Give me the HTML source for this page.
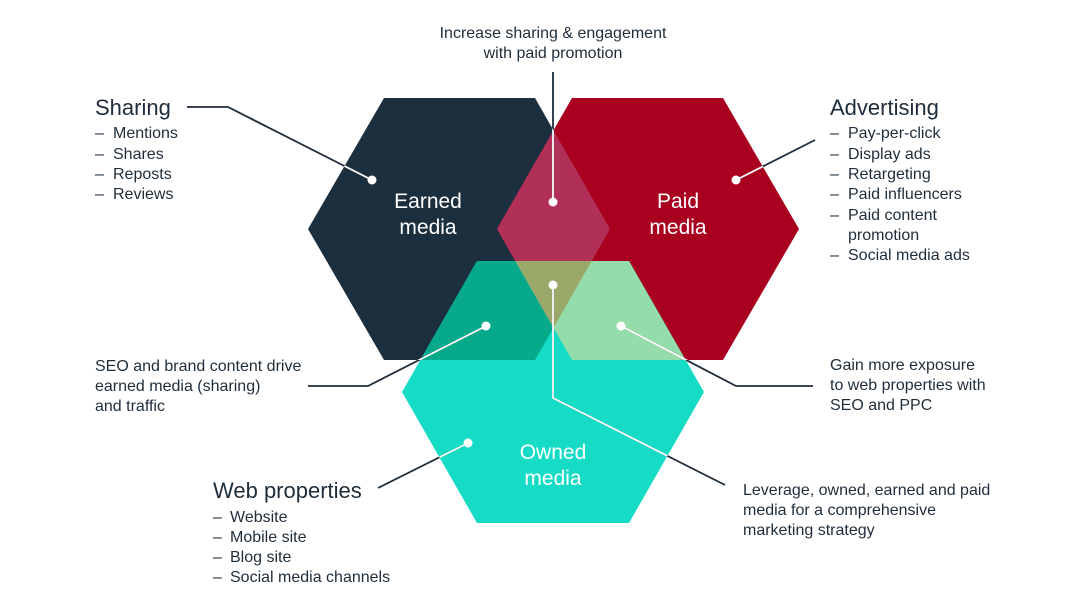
<!DOCTYPE html>
<html><head><meta charset="utf-8"><style>
body{margin:0;background:#fff;}
svg{display:block;}
text{font-family:"Liberation Sans",sans-serif;fill:#1e2d3b;}
.s{font-size:16px;}
.h{font-size:22px;}
.w{fill:#fff;font-size:21px;}
</style></head><body>
<svg width="1088" height="612" viewBox="0 0 1088 612">
<defs>
<clipPath id="ce"><polygon points="308,229 384,98 535,98 610,229 535,360 384,360"/></clipPath>
<clipPath id="cp"><polygon points="497,229 572,98 723,98 799,229 723,360 572,360"/></clipPath>
<clipPath id="call">
<polygon points="308,229 384,98 535,98 610,229 535,360 384,360"/>
<polygon points="497,229 572,98 723,98 799,229 723,360 572,360"/>
<polygon points="402,392 477,261 629,261 704,392 629,523 477,523"/>
</clipPath>
</defs>
<polygon points="308,229 384,98 535,98 610,229 535,360 384,360" fill="#1c2f3e"/>
<polygon points="497,229 572,98 723,98 799,229 723,360 572,360" fill="#a8001e"/>
<polygon points="402,392 477,261 629,261 704,392 629,523 477,523" fill="#16dcc6"/>
<g clip-path="url(#ce)"><polygon points="497,229 572,98 723,98 799,229 723,360 572,360" fill="#b13057"/>
<polygon points="402,392 477,261 629,261 704,392 629,523 477,523" fill="#06aa8a"/></g>
<g clip-path="url(#cp)"><polygon points="402,392 477,261 629,261 704,392 629,523 477,523" fill="#94dca9"/></g>
<g clip-path="url(#ce)"><g clip-path="url(#cp)"><polygon points="402,392 477,261 629,261 704,392 629,523 477,523" fill="#9aa86a"/></g></g>

<g fill="none" stroke-width="1.8">
<g stroke="#1e2d3b">
<polyline points="187,107 228,107 372,180"/>
<polyline points="553,72 553,202"/>
<polyline points="815,140 736,180"/>
<polyline points="486,326 368,386 308,386"/>
<polyline points="621,326 736,386 813,386"/>
<polyline points="553,285 553,398 725,485"/>
<polyline points="468,443 378,488"/>
</g>
<g stroke="#fff" clip-path="url(#call)">
<polyline points="187,107 228,107 372,180"/>
<polyline points="553,72 553,202"/>
<polyline points="815,140 736,180"/>
<polyline points="486,326 368,386 308,386"/>
<polyline points="621,326 736,386 813,386"/>
<polyline points="553,285 553,398 725,485"/>
<polyline points="468,443 378,488"/>
</g>
</g>
<g fill="#fff">
<circle cx="372" cy="180" r="4.5"/><circle cx="553" cy="202" r="4.5"/><circle cx="736" cy="180" r="4.5"/>
<circle cx="486" cy="326" r="4.5"/><circle cx="621" cy="326" r="4.5"/><circle cx="553" cy="285" r="4.5"/>
<circle cx="468" cy="443" r="4.5"/>
</g>

<text class="w" x="428" y="208" text-anchor="middle">Earned</text>
<text class="w" x="428" y="234" text-anchor="middle">media</text>
<text class="w" x="678" y="208" text-anchor="middle">Paid</text>
<text class="w" x="678" y="234" text-anchor="middle">media</text>
<text class="w" x="553" y="459" text-anchor="middle">Owned</text>
<text class="w" x="553" y="485" text-anchor="middle">media</text>

<text class="s" x="553" y="38" text-anchor="middle">Increase sharing &amp; engagement</text>
<text class="s" x="553" y="58" text-anchor="middle">with paid promotion</text>

<text class="h" x="95" y="115">Sharing</text>
<g class="s">
<text class="s" x="95" y="138">–</text><text class="s" x="113" y="138">Mentions</text>
<text class="s" x="95" y="159">–</text><text class="s" x="113" y="159">Shares</text>
<text class="s" x="95" y="179">–</text><text class="s" x="113" y="179">Reposts</text>
<text class="s" x="95" y="199">–</text><text class="s" x="113" y="199">Reviews</text>
</g>

<text class="h" x="830" y="115">Advertising</text>
<text class="s" x="830" y="138">–</text><text class="s" x="848" y="138">Pay-per-click</text>
<text class="s" x="830" y="159">–</text><text class="s" x="848" y="159">Display ads</text>
<text class="s" x="830" y="179">–</text><text class="s" x="848" y="179">Retargeting</text>
<text class="s" x="830" y="199">–</text><text class="s" x="848" y="199">Paid influencers</text>
<text class="s" x="830" y="220">–</text><text class="s" x="848" y="220">Paid content</text>
<text class="s" x="848" y="240">promotion</text>
<text class="s" x="830" y="260">–</text><text class="s" x="848" y="260">Social media ads</text>

<text class="s" x="95" y="371">SEO and brand content drive</text>
<text class="s" x="95" y="391">earned media (sharing)</text>
<text class="s" x="95" y="411">and traffic</text>

<text class="s" x="830" y="370">Gain more exposure</text>
<text class="s" x="830" y="390">to web properties with</text>
<text class="s" x="830" y="410">SEO and PPC</text>

<text class="s" x="743" y="495">Leverage, owned, earned and paid</text>
<text class="s" x="743" y="515">media for a comprehensive</text>
<text class="s" x="743" y="535">marketing strategy</text>

<text class="h" x="213" y="498">Web properties</text>
<text class="s" x="213" y="522">–</text><text class="s" x="230" y="522">Website</text>
<text class="s" x="213" y="542">–</text><text class="s" x="230" y="542">Mobile site</text>
<text class="s" x="213" y="562">–</text><text class="s" x="230" y="562">Blog site</text>
<text class="s" x="213" y="582">–</text><text class="s" x="230" y="582">Social media channels</text>
</svg>
</body></html>
